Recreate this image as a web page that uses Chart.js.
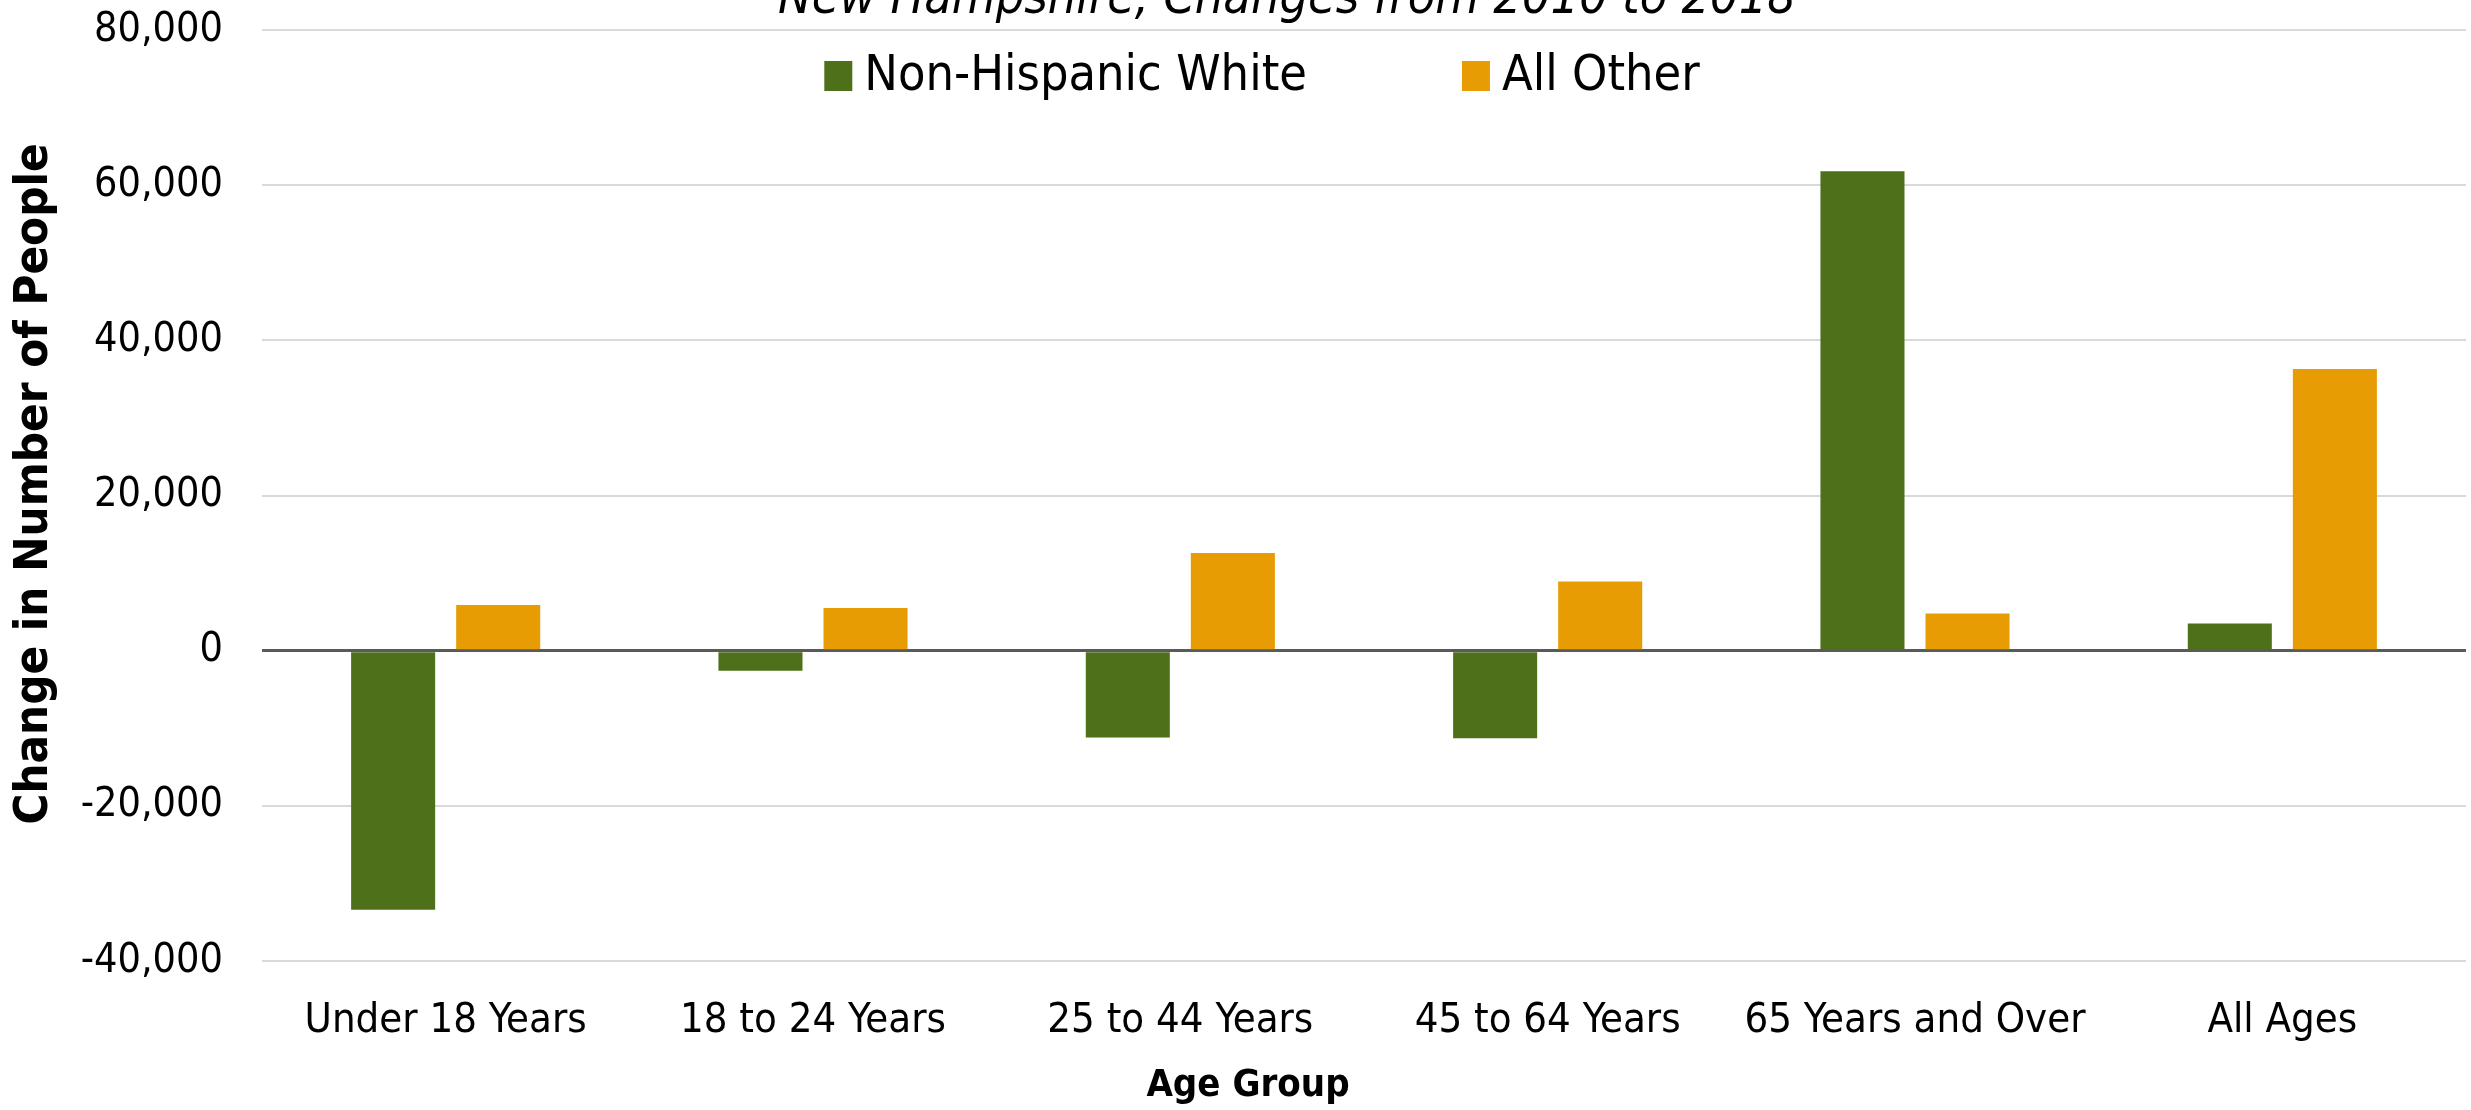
<!DOCTYPE html>
<html>
<head>
<meta charset="utf-8">
<script src="https://cdn.jsdelivr.net/npm/chart.js@4.4.1/dist/chart.umd.min.js"></script>
<style>
  html, body { margin: 0; padding: 0; background: #fff; overflow: hidden; }
  canvas { display: block; }
</style>
</head>
<body>
<canvas id="chart" width="2471" height="1110"></canvas>
<script>
// Data
const ageGroups = ['Under 18 Years', '18 to 24 Years', '25 to 44 Years', '45 to 64 Years', '65 Years and Over', 'All Ages'];
const nonHispanicWhite = [-33400, -2600, -11200, -11300, 61800, 3500];
const allOther = [5900, 5500, 12600, 8900, 4800, 36300];
const yTicks = [-40000, -20000, 0, 20000, 40000, 60000, 80000];

const chartTitle = 'New Hampshire, Changes from 2010 to 2018';
const xTitle = 'Age Group';
const yTitle = 'Change in Number of People';
const FONT = '"DejaVu Sans Condensed", "DejaVu Sans", sans-serif';

Chart.defaults.font.family = FONT;
Chart.defaults.color = '#000';

// title (cut off at the top edge), legend inside the plot area, axis titles
const titleAndLegend = {
  id: 'titleAndLegend',
  afterDraw(chart) {
    const ctx = chart.ctx;
    ctx.save();
    ctx.fillStyle = '#000';
    ctx.font = 'italic 50px ' + FONT;
    ctx.textAlign = 'center';
    ctx.textBaseline = 'alphabetic';
    ctx.fillText(chartTitle, 1287, 13);

    // axis titles, placed like the original rather than on the plot centre
    ctx.font = 'bold 38px ' + FONT;
    ctx.textBaseline = 'middle';
    ctx.fillText(xTitle, 1248, 1086);

    ctx.save();
    ctx.translate(35, 484);
    ctx.rotate(-Math.PI / 2);
    ctx.font = 'bold 47px ' + FONT;
    ctx.fillText(yTitle, 0, 0);
    ctx.restore();

    // legend
    ctx.font = '50px ' + FONT;
    ctx.textAlign = 'left';
    const boxW = 28, boxH = 30, gap = 12, spacing = 155;
    const items = chart.data.datasets.map(ds => ({
      label: ds.label, color: ds.backgroundColor, w: ctx.measureText(ds.label).width
    }));
    let total = 0;
    items.forEach((it, i) => { total += boxW + gap + it.w + (i > 0 ? spacing : 0); });
    let x = 1262 - total / 2;
    const cy = 76;
    items.forEach(it => {
      ctx.fillStyle = it.color;
      ctx.fillRect(x, cy - boxH / 2, boxW, boxH);
      ctx.fillStyle = '#000';
      ctx.fillText(it.label, x + boxW + gap, cy + 1);
      x += boxW + gap + it.w + spacing;
    });
    ctx.restore();
  }
};

new Chart(document.getElementById('chart').getContext('2d'), {
  type: 'bar',
  data: {
    labels: ageGroups,
    datasets: [
      { label: 'Non-Hispanic White', data: nonHispanicWhite, backgroundColor: '#4E701A' },
      { label: 'All Other', data: allOther, backgroundColor: '#E79C03' }
    ]
  },
  options: {
    responsive: false,
    animation: false,
    devicePixelRatio: 1,
    categoryPercentage: 0.572,
    barPercentage: 0.8,
    layout: { padding: { top: 30, right: 5, bottom: 0, left: 0 } },
    plugins: {
      legend: { display: false },
      title: { display: false },
      tooltip: { enabled: false }
    },
    scales: {
      x: {
        grid: { display: false },
        border: { display: false },
        ticks: { font: { size: 41.5 }, padding: 27, maxRotation: 0, autoSkip: false },
        afterFit: (scale) => { scale.height = 149; }
      },
      y: {
        min: -40000,
        max: 80000,
        afterBuildTicks: (scale) => { scale.ticks = yTicks.map(v => ({ value: v })); },
        grid: {
          drawTicks: false,
          color: (c) => c.tick && c.tick.value === 0 ? '#5a5a5a' : '#d9d9d9',
          lineWidth: (c) => c.tick && c.tick.value === 0 ? 3 : 2
        },
        border: { display: false },
        ticks: {
          font: { size: 41 },
          padding: 39,
          callback: (v) => Number(v).toLocaleString('en-US')
        },
        afterFit: (scale) => {
          scale.width = 262;
          scale.paddingTop = 20;
          scale.paddingBottom = 20;
        }
      }
    }
  },
  plugins: [titleAndLegend]
});
</script>
</body>
</html>
